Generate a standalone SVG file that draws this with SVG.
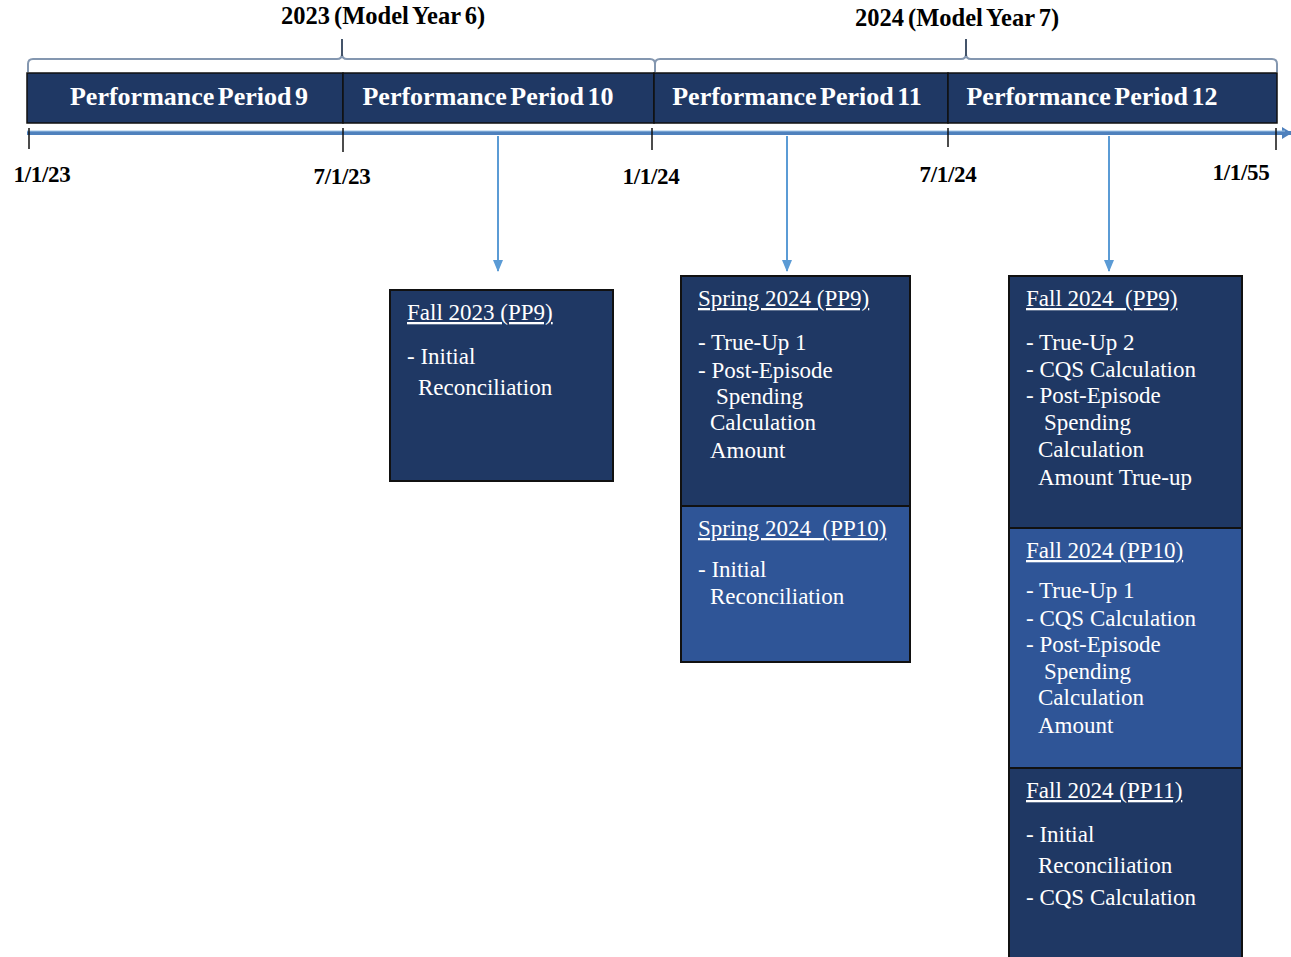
<svg xmlns="http://www.w3.org/2000/svg" width="1291" height="957" viewBox="0 0 1291 957">
<style>
.bar{fill:#1f3864;stroke:#111;stroke-width:1.5}
.dark{fill:#1f3864;stroke:#111;stroke-width:2}
.mid{fill:#2f5597;stroke:#111;stroke-width:2}
.ph{font-family:"Liberation Serif",serif;font-weight:bold;font-size:26px;fill:#fff;text-anchor:middle;word-spacing:-3px}
.dt{font-family:"Liberation Serif",serif;font-weight:bold;font-size:23px;fill:#000;text-anchor:middle;letter-spacing:-0.3px}
.yr{font-family:"Liberation Serif",serif;font-weight:bold;font-size:24.5px;fill:#000;text-anchor:middle;word-spacing:-2px}
.bt{font-family:"Liberation Serif",serif;font-weight:normal;font-size:23px;fill:#fff}
.hd{text-decoration:underline}
.tick{stroke:#111;stroke-width:1.5}
.brace{fill:none;stroke:#8497b0;stroke-width:2}
.conn{stroke:#5b9bd5;stroke-width:2;fill:none}
</style>
<defs>
<marker id="ah" markerWidth="12" markerHeight="10" refX="11" refY="5" orient="auto" markerUnits="userSpaceOnUse">
<path d="M0,0 L12,5 L0,10 Z" fill="#5b9bd5"/>
</marker>
<marker id="ah2" markerWidth="10" markerHeight="12" refX="9" refY="6" orient="auto" markerUnits="userSpaceOnUse">
<path d="M0,0 L10,6 L0,12 Z" fill="#4f81bd"/>
</marker>
</defs>

<g id="years">
<path class="brace" d="M28,72 V64 Q28,59 33,59 H337 Q342,59 342,54 Q342,59 347,59 H650 Q655,59 655,64 V72"/>
<line x1="342" y1="39" x2="342" y2="56" stroke="#44546a" stroke-width="2"/>
<path class="brace" d="M655,72 V64 Q655,59 660,59 H961 Q966,59 966,54 Q966,59 971,59 H1272 Q1277,59 1277,64 V72"/>
<line x1="966" y1="39" x2="966" y2="56" stroke="#44546a" stroke-width="2"/>
<text class="yr" x="383" y="24">2023 (Model Year 6)</text>
<text class="yr" x="957" y="26">2024 (Model Year 7)</text>
</g>

<g id="periods">
<rect class="bar" x="27" y="73" width="316" height="50"/>
<rect class="bar" x="343" y="73" width="311" height="50"/>
<rect class="bar" x="654" y="73" width="294" height="50"/>
<rect class="bar" x="948" y="73" width="329" height="50"/>
<text class="ph" x="189" y="105">Performance Period 9</text>
<text class="ph" x="488" y="105">Performance Period 10</text>
<text class="ph" x="797" y="105">Performance Period 11</text>
<text class="ph" x="1092" y="105">Performance Period 12</text>
</g>

<g id="timeline">
<line x1="27" y1="133" x2="1291" y2="133" stroke="#4f81bd" stroke-width="4" marker-end="url(#ah2)"/>
<line x1="27" y1="131" x2="1285" y2="131" stroke="#9dc3e6" stroke-width="1"/>
<line class="tick" x1="29" y1="128" x2="29" y2="149"/>
<line class="tick" x1="343" y1="128" x2="343" y2="152"/>
<line class="tick" x1="652" y1="128" x2="652" y2="150"/>
<line class="tick" x1="948" y1="128" x2="948" y2="147"/>
<line class="tick" x1="1276" y1="128" x2="1276" y2="150"/>
<text class="dt" x="42" y="182">1/1/23</text>
<text class="dt" x="342" y="184">7/1/23</text>
<text class="dt" x="651" y="184">1/1/24</text>
<text class="dt" x="948" y="182">7/1/24</text>
<text class="dt" x="1241" y="180">1/1/55</text>
</g>

<g id="connectors">
<line class="conn" x1="498" y1="136" x2="498" y2="271" marker-end="url(#ah)"/>
<line class="conn" x1="787" y1="136" x2="787" y2="271" marker-end="url(#ah)"/>
<line class="conn" x1="1109" y1="136" x2="1109" y2="271" marker-end="url(#ah)"/>
</g>

<g id="fall2023-pp9">
<rect class="dark" x="390" y="290" width="223" height="191"/>
<text class="bt hd" x="407" y="320">Fall 2023 (PP9)</text>
<text class="bt" x="407" y="364">- Initial</text>
<text class="bt" x="418" y="395">Reconciliation</text>
</g>

<g id="spring2024-pp9">
<rect class="dark" x="681" y="276" width="229" height="230"/>
<text class="bt hd" x="698" y="306">Spring 2024 (PP9)</text>
<text class="bt" x="698" y="350">- True-Up 1</text>
<text class="bt" x="698" y="378">- Post-Episode</text>
<text class="bt" x="716" y="404">Spending</text>
<text class="bt" x="710" y="430">Calculation</text>
<text class="bt" x="710" y="458">Amount</text>
</g>

<g id="spring2024-pp10">
<rect class="mid" x="681" y="506" width="229" height="156"/>
<text class="bt hd" x="698" y="536" xml:space="preserve">Spring 2024  (PP10)</text>
<text class="bt" x="698" y="577">- Initial</text>
<text class="bt" x="710" y="604">Reconciliation</text>
</g>

<g id="fall2024-pp9">
<rect class="dark" x="1009" y="276" width="233" height="252"/>
<text class="bt hd" x="1026" y="306" xml:space="preserve">Fall 2024  (PP9)</text>
<text class="bt" x="1026" y="350">- True-Up 2</text>
<text class="bt" x="1026" y="377">- CQS Calculation</text>
<text class="bt" x="1026" y="403">- Post-Episode</text>
<text class="bt" x="1044" y="430">Spending</text>
<text class="bt" x="1038" y="457">Calculation</text>
<text class="bt" x="1038" y="485">Amount True-up</text>
</g>

<g id="fall2024-pp10">
<rect class="mid" x="1009" y="528" width="233" height="240"/>
<text class="bt hd" x="1026" y="558">Fall 2024 (PP10)</text>
<text class="bt" x="1026" y="598">- True-Up 1</text>
<text class="bt" x="1026" y="626">- CQS Calculation</text>
<text class="bt" x="1026" y="652">- Post-Episode</text>
<text class="bt" x="1044" y="679">Spending</text>
<text class="bt" x="1038" y="705">Calculation</text>
<text class="bt" x="1038" y="733">Amount</text>
</g>

<g id="fall2024-pp11">
<rect class="dark" x="1009" y="768" width="233" height="195"/>
<text class="bt hd" x="1026" y="798">Fall 2024 (PP11)</text>
<text class="bt" x="1026" y="842">- Initial</text>
<text class="bt" x="1038" y="873">Reconciliation</text>
<text class="bt" x="1026" y="905">- CQS Calculation</text>
</g>
</svg>
